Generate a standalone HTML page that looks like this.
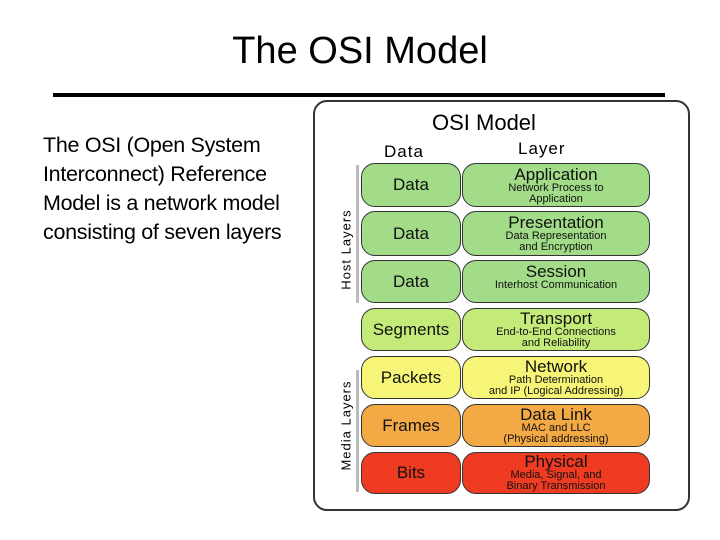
<!DOCTYPE html>
<html><head><style>
body{margin:0;width:720px;height:540px;background:#fff;position:relative;overflow:hidden;font-family:"Liberation Sans",sans-serif}
.t{position:absolute;left:0;width:720px;text-align:center;top:30px;font-size:38px;color:#000;padding-left:0}
.ln{position:absolute;left:53px;top:93px;width:612px;height:4px;background:#000}
.body{position:absolute;left:43px;top:131px;font-size:21.5px;line-height:29px;color:#000;letter-spacing:-0.3px}
.img{position:absolute;left:313px;top:100px;width:373px;height:407px;border:2px solid #333;border-radius:14px;background:#fff}
.b{position:absolute;border:1.5px solid #333;border-radius:14px;box-sizing:border-box;text-align:center;color:#111}
.l{left:361px;width:100px;font-size:17px;display:flex;align-items:center;justify-content:center}
.r{left:462px;width:188px;line-height:1}
.r .h{font-size:17px;margin-top:2px}
.r .s{font-size:11px}
.v{position:absolute;transform:rotate(-90deg);transform-origin:center;font-size:13px;white-space:nowrap;text-align:center;letter-spacing:1px}
.bar{position:absolute;left:356px;width:3px;background:#bbb}
</style></head><body>
<div class="t">The OSI Model</div>
<div class="ln"></div>
<div class="body">The OSI (Open System<br>Interconnect) Reference<br>Model is a network model<br>consisting of seven layers</div>
<div class="img"></div>
<div style="position:absolute;left:432px;top:110px;font-size:22px">OSI Model</div>
<div style="position:absolute;left:384px;top:142px;font-size:17px;letter-spacing:1px">Data</div>
<div style="position:absolute;left:518px;top:139px;font-size:17px;letter-spacing:1px">Layer</div>
<div class="bar" style="top:165px;height:138px"></div>
<div class="bar" style="top:370px;height:122px"></div>
<div class="v" style="left:286px;top:242px;width:120px">Host Layers</div>
<div class="v" style="left:286px;top:418px;width:120px">Media Layers</div>

<div class="b l" style="top:163px;height:44px;background:#a2dc88">Data</div>
<div class="b r" style="top:163px;height:44px;background:#a2dc88"><div class="h">Application</div><div class="s">Network Process to<br>Application</div></div>
<div class="b l" style="top:211px;height:45px;background:#a2dc88">Data</div>
<div class="b r" style="top:211px;height:45px;background:#a2dc88"><div class="h">Presentation</div><div class="s">Data Representation<br>and Encryption</div></div>
<div class="b l" style="top:260px;height:43px;background:#a2dc88">Data</div>
<div class="b r" style="top:260px;height:43px;background:#a2dc88"><div class="h" style="margin-top:2px">Session</div><div class="s">Interhost Communication</div></div>
<div class="b l" style="top:308px;height:43px;background:#c4ea7a">Segments</div>
<div class="b r" style="top:308px;height:43px;background:#c4ea7a"><div class="h" style="margin-top:1px">Transport</div><div class="s">End-to-End Connections<br>and Reliability</div></div>
<div class="b l" style="top:356px;height:43px;background:#f7f577">Packets</div>
<div class="b r" style="top:356px;height:43px;background:#f7f577"><div class="h" style="margin-top:1px">Network</div><div class="s">Path Determination<br>and IP (Logical Addressing)</div></div>
<div class="b l" style="top:404px;height:43px;background:#f4aa44">Frames</div>
<div class="b r" style="top:404px;height:43px;background:#f4aa44"><div class="h" style="margin-top:1px">Data Link</div><div class="s">MAC and LLC<br>(Physical addressing)</div></div>
<div class="b l" style="top:452px;height:42px;background:#ee3b22">Bits</div>
<div class="b r" style="top:452px;height:42px;background:#ee3b22"><div class="h" style="margin-top:0">Physical</div><div class="s">Media, Signal, and<br>Binary Transmission</div></div>
</body></html>
